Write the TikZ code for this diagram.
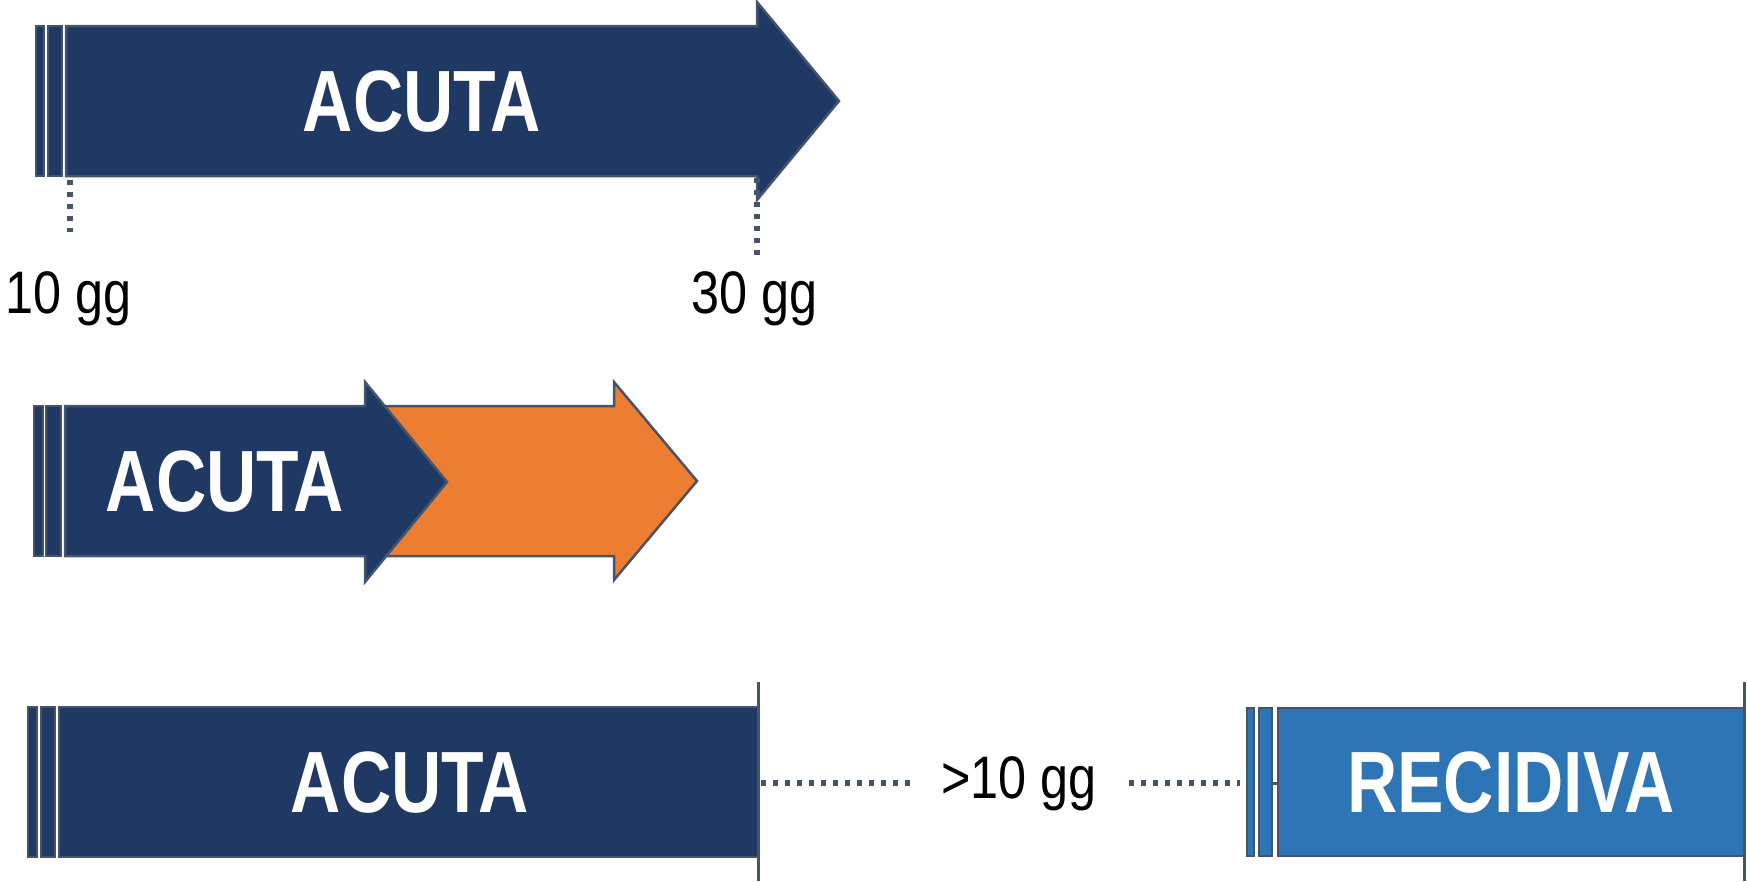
\documentclass[tikz,border=0pt]{standalone}
\usepackage{fontspec}
\setmainfont{Liberation Sans}[FakeStretch=0.8]
\newfontfamily\daysfont{Liberation Sans}[FakeStretch=0.84]
\definecolor{navy}{HTML}{203864}
\definecolor{edge}{HTML}{44546A}
\definecolor{orng}{HTML}{ED7D31}
\definecolor{midblue}{HTML}{2E75B6}
\tikzset{
  box/.style={draw=edge, line width=2.5pt, line join=miter},
  strip/.style={draw=edge, line width=2pt},
  phase/.style={text=white, font=\bfseries\fontsize{87}{87}\selectfont, inner sep=0pt},
  days/.style={text=black, font=\daysfont\fontsize{60}{60}\selectfont, inner sep=0pt, anchor=base},
  dots/.style={draw=edge, line width=6pt, dash pattern=on 5pt off 7pt},
  tick/.style={draw=edge, line width=3pt},
}
\begin{document}
\begin{tikzpicture}[x=1pt, y=-1pt]
\useasboundingbox (0,0) rectangle (1747,881);

% --- first row: acute phase, 10 to 30 days
\draw[strip, fill=navy] (36,26) rectangle (44,176);
\draw[strip, fill=navy] (48,26) rectangle (62,176);
\draw[box, fill=navy] (66,26) -- (757,26) -- (757,2) -- (839,101) -- (757,200)
  -- (757,176) -- (66,176) -- cycle;
\node[phase] (acuta1) at (422,102) {ACUTA};

\coordinate (s10) at (70,180);
\coordinate (e10) at (70,232);
\draw[dots] (s10) -- (e10);
\node[days] (d10) at (69,313) {10 gg};

\coordinate (s30) at (757,178);
\coordinate (e30) at (757,257);
\draw[dots] (s30) -- (e30);
\node[days] (d30) at (755,313) {30 gg};

% --- second row: acute phase running into the next one
\draw[box, fill=orng] (372,406) -- (614,406) -- (614,382) -- (697,481) -- (614,580)
  -- (614,556) -- (372,556) -- cycle;
\draw[strip, fill=navy] (34,406) rectangle (43,556);
\draw[strip, fill=navy] (46,406) rectangle (61,556);
\draw[box, fill=navy] (65,406) -- (365,406) -- (365,382) -- (447,482) -- (365,582)
  -- (365,556) -- (65,556) -- cycle;
\node[phase] (acuta2) at (225,482) {ACUTA};

% --- third row: acute phase, gap, relapse
\coordinate (aT) at (758,682);
\coordinate (aB) at (758,881);
\draw[tick] (aT) -- (aB);
\draw[strip, fill=navy] (28,707) rectangle (37,857);
\draw[strip, fill=navy] (41,707) rectangle (55,857);
\draw[box, fill=navy] (59,707) rectangle (758,857);
\node[phase] (acuta3) at (410,783) {ACUTA};

\node[days] (gap) at (1019,798) {>10 gg};
\coordinate (g1) at (761,783);
\coordinate (g2) at (916,783);
\coordinate (g3) at (1129,783);
\coordinate (g4) at (1240,783);
\draw[dots] (g1) -- (g2);
\draw[dots] (g3) -- (g4);

\coordinate (rT) at (1744,682);
\coordinate (rB) at (1744,881);
\draw[tick] (rT) -- (rB);
\draw[strip, fill=midblue] (1247,708) rectangle (1254,856);
\draw[strip, fill=midblue] (1259,708) rectangle (1272,856);
\coordinate (l1) at (1272,783);
\coordinate (l2) at (1278,783);
\draw[tick] (l1) -- (l2);
\draw[box, fill=midblue] (1278,708) rectangle (1744,856);
\node[phase] (recid) at (1511,783) {RECIDIVA};
\end{tikzpicture}
\end{document}
